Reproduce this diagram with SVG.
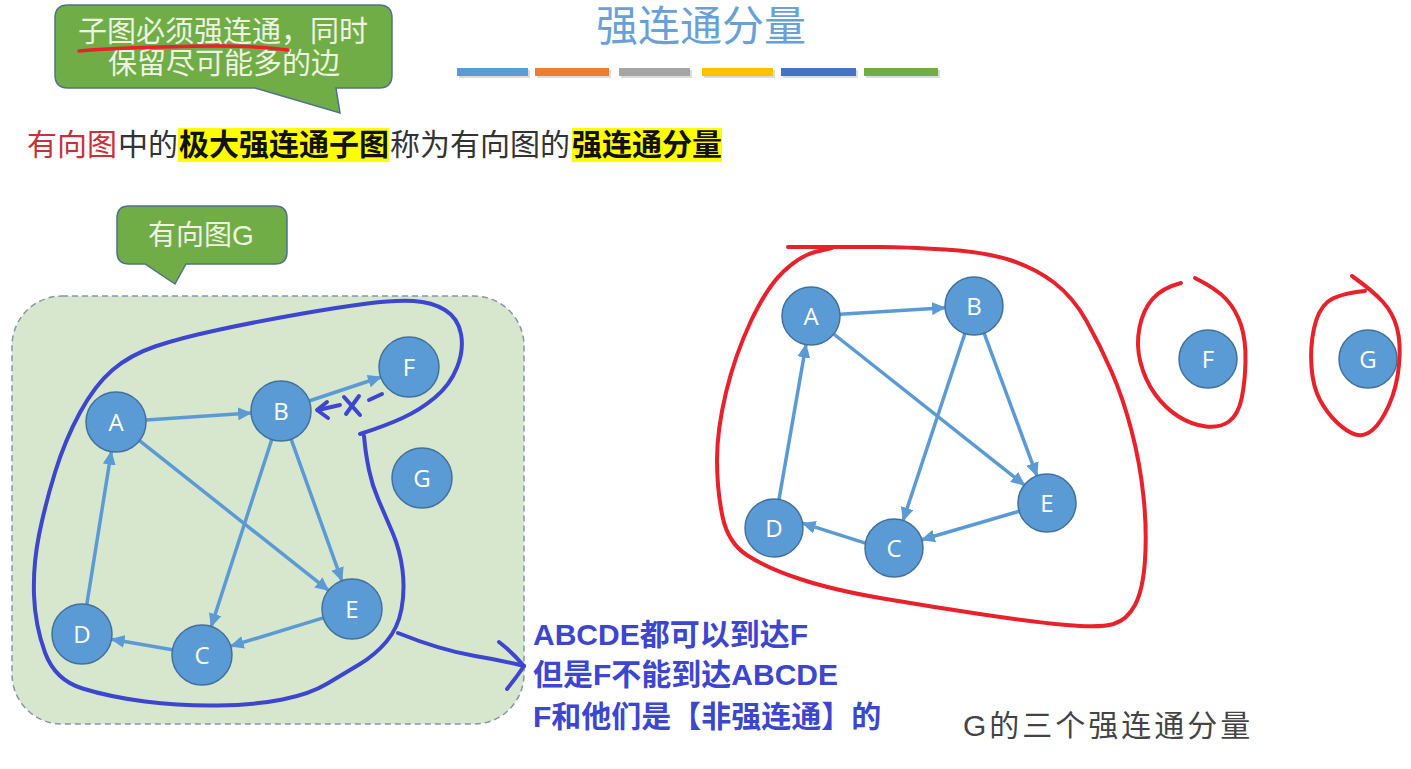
<svg xmlns="http://www.w3.org/2000/svg" width="1411" height="769" viewBox="0 0 1411 769">
<defs>
<style>
.cjk{font-family:"Liberation Sans","Noto Sans CJK SC",sans-serif;}
.node circle{fill:#5b9bd5;stroke:#41719c;stroke-width:1.5;}
.node text{fill:#ffffff;font-family:"Open Sans","Liberation Sans",sans-serif;font-size:24px;text-anchor:middle;}
.edge{stroke:#5b9bd5;stroke-width:3.5;fill:none;marker-end:url(#ah);}
.pen-blue{stroke:#3d46cf;stroke-width:4;fill:none;stroke-linecap:round;stroke-linejoin:round;}
.pen-red{stroke:#e8212b;stroke-width:4;fill:none;stroke-linecap:round;stroke-linejoin:round;}
.callout{fill:#70ad47;stroke:#4e7192;stroke-width:1.5;}
.callout-text{fill:#eef3e2;font-size:29px;text-anchor:middle;}
.bar-shadow{fill:#9a9a9a;opacity:0.35;}
</style>
<marker id="ah" markerUnits="userSpaceOnUse" markerWidth="15" markerHeight="13" refX="13" refY="6.5" orient="auto">
<path d="M0,0 L14,6.5 L0,13 Z" fill="#5b9bd5"/>
</marker>
</defs>
<rect width="1411" height="769" fill="#ffffff"/>

<!-- title -->
<g id="title">
<text class="cjk" x="701" y="41" font-size="42" fill="#6aa0d8" text-anchor="middle">强连通分量</text>
<rect class="bar-shadow" x="459" y="70" width="71" height="8"/>
<rect x="457" y="68" width="71" height="8" fill="#5b9bd5"/>
<rect class="bar-shadow" x="537" y="70" width="74" height="8"/>
<rect x="535" y="68" width="74" height="8" fill="#ed7d31"/>
<rect class="bar-shadow" x="621" y="70" width="71" height="8"/>
<rect x="619" y="68" width="71" height="8" fill="#a5a5a5"/>
<rect class="bar-shadow" x="704" y="70" width="71" height="8"/>
<rect x="702" y="68" width="71" height="8" fill="#ffc000"/>
<rect class="bar-shadow" x="783" y="70" width="75" height="8"/>
<rect x="781" y="68" width="75" height="8" fill="#4472c4"/>
<rect class="bar-shadow" x="866" y="70" width="74" height="8"/>
<rect x="864" y="68" width="74" height="8" fill="#70ad47"/>
</g>

<!-- callout 1 -->
<g id="callout-subgraph">
<path class="callout" d="M55,18 Q55,5 68,5 L379,5 Q392,5 392,18 L392,75 Q392,88 379,88 L336,88 L340,113 L255,88 L68,88 Q55,88 55,75 Z"/>
<text class="cjk callout-text" x="223" y="42">子图必须强连通，同时</text>
<text class="cjk callout-text" x="224" y="74">保留尽可能多的边</text>
<path d="M79,51 Q120,47 217,46 Q260,46 288,50" stroke="#e8212b" stroke-width="3.5" fill="none" stroke-linecap="round"/>
</g>

<!-- definition line -->
<g id="definition">
<rect x="178" y="128" width="211" height="34" fill="#ffff00"/>
<rect x="572" y="128" width="150" height="34" fill="#ffff00"/>
<text class="cjk" y="155" font-size="30">
<tspan x="27" fill="#c8313a">有向图</tspan><tspan x="118" fill="#333333">中的</tspan><tspan x="179" fill="#111111" font-weight="bold">极大强连通子图</tspan><tspan x="390" fill="#333333">称为有向图的</tspan><tspan x="572" fill="#111111" font-weight="bold">强连通分量</tspan>
</text>
</g>

<!-- callout 2 -->
<g id="callout-graphG">
<path class="callout" d="M117,218 Q117,206 129,206 L275,206 Q287,206 287,218 L287,252 Q287,264 275,264 L186,264 L175,284 L145,264 L129,264 Q117,264 117,252 Z"/>
<text class="cjk" x="201" y="245" font-size="28" fill="#eef3e2" text-anchor="middle">有向图G</text>
</g>

<!-- green frame -->
<g id="frame-G">
<rect x="12" y="296" width="512" height="428" rx="50" ry="50" fill="#d6e7cd" stroke="#8496a8" stroke-width="1.5" stroke-dasharray="6,4"/>
</g>

<!-- connectors -->
<g id="connectors">
<line class="edge" x1="146" y1="420" x2="251" y2="413"/>
<line class="edge" x1="309" y1="401" x2="381" y2="377"/>
<line class="edge" x1="139.5" y1="440.6" x2="328.5" y2="590.4"/>
<line class="edge" x1="271.8" y1="439.5" x2="211.2" y2="626.5"/>
<line class="edge" x1="291.1" y1="439.2" x2="341.9" y2="580.8"/>
<line class="edge" x1="323.3" y1="617.8" x2="230.7" y2="646.2"/>
<line class="edge" x1="172.4" y1="649.8" x2="111.5" y2="639.2"/>
<line class="edge" x1="86.8" y1="604.4" x2="111.3" y2="451.6"/>

<line class="edge" x1="840" y1="314.2" x2="945" y2="307.8"/>
<line class="edge" x1="833.7" y1="334" x2="1024.3" y2="485"/>
<line class="edge" x1="964.9" y1="333.5" x2="903.1" y2="520.5"/>
<line class="edge" x1="984.1" y1="333.2" x2="1036.9" y2="475.8"/>
<line class="edge" x1="1019.2" y1="511.2" x2="921.8" y2="539.8"/>
<line class="edge" x1="865.4" y1="543.2" x2="802.6" y2="523.2"/>
<line class="edge" x1="779" y1="499.4" x2="806" y2="344.6"/>
</g>

<!-- left graph nodes -->
<g id="L-A" class="node"><circle cx="116" cy="422" r="30"/><text x="116" y="431">A</text></g>
<g id="L-B" class="node"><circle cx="281" cy="411" r="30"/><text x="281" y="420">B</text></g>
<g id="L-F" class="node"><circle cx="409" cy="367" r="30"/><text x="409" y="376">F</text></g>
<g id="L-G" class="node"><circle cx="422" cy="478" r="30"/><text x="422" y="487">G</text></g>
<g id="L-D" class="node"><circle cx="82" cy="634" r="30"/><text x="82" y="643">D</text></g>
<g id="L-C" class="node"><circle cx="202" cy="655" r="30"/><text x="202" y="664">C</text></g>
<g id="L-E" class="node"><circle cx="352" cy="609" r="30"/><text x="352" y="618">E</text></g>

<!-- right graph nodes -->
<g id="R-A" class="node"><circle cx="811" cy="316" r="29"/><text x="811" y="325">A</text></g>
<g id="R-B" class="node"><circle cx="974" cy="306" r="29"/><text x="974" y="315">B</text></g>
<g id="R-E" class="node"><circle cx="1047" cy="503" r="29"/><text x="1047" y="512">E</text></g>
<g id="R-D" class="node"><circle cx="774" cy="528" r="29"/><text x="774" y="537">D</text></g>
<g id="R-C" class="node"><circle cx="894" cy="548" r="29"/><text x="894" y="557">C</text></g>
<g id="R-F" class="node"><circle cx="1208" cy="359" r="29"/><text x="1208" y="368">F</text></g>
<g id="R-G" class="node"><circle cx="1368" cy="359" r="29"/><text x="1368" y="368">G</text></g>

<!-- blue hand annotations -->
<g id="blue-annotation">
<path class="pen-blue" d="M360,434 Q385,426 402.5,418 Q420,410 435,397.5 Q450,385 457,367.5 Q464,350 461,334 Q458,318 445,310 Q432,302 413.5,301 Q395,300 367.5,303.5 Q340,307 300,314 Q260,321 220,329.5 Q180,338 155,346.5 Q130,355 112.5,370 Q95,385 80,412.5 Q65,440 55,472.5 Q45,505 39,535 Q33,565 34,595 Q35,625 45,652.5 Q55,680 82.5,688.5 Q110,697 145,701.5 Q180,706 217.5,705.5 Q255,705 282.5,699.5 Q310,694 327.5,683.5 Q345,673 360,664 Q375,655 386.5,641.5 Q398,628 401.5,609 Q405,590 402.5,570 Q400,550 392.5,532.5 Q385,515 378.5,500 Q372,485 369,470 Q366,455 365,445.5 L364,436"/>
<path class="pen-blue" d="M398,633 Q440,650 475,656 Q500,660 524,666"/>
<path class="pen-blue" d="M499,642 Q512,652 524,666 Q516,678 507,689"/>
<path class="pen-blue" d="M327,402 L317,410 L328,418"/>
<path class="pen-blue" d="M318,410 L340,405"/>
<path class="pen-blue" d="M344,397 L360,415 M359,396 L346,414"/>
<path class="pen-blue" d="M369,400 L382,394"/>
<text class="cjk" font-size="30" font-weight="bold" fill="#3d46cf">
<tspan x="533" y="645">ABCDE都可以到达F</tspan>
<tspan x="533" y="685">但是F不能到达ABCDE</tspan>
<tspan x="533" y="727">F和他们是【非强连通】的</tspan>
</text>
</g>

<!-- red hand annotations -->
<g id="red-annotation">
<path class="pen-red" d="M788,247 L880,247 Q905,247 945,249.5 Q985,252 1010,260 Q1035,268 1054,282.5 Q1073,297 1086.5,321 Q1100,345 1111.5,371.5 Q1123,398 1131.5,430.5 Q1140,463 1143.5,496.5 Q1147,530 1145,560 Q1143,590 1135,605 Q1127,620 1113.5,624 Q1100,628 1066.5,625 Q1033,622 983,614.5 Q933,607 883,598.5 Q833,590 800,579 Q767,568 747.5,555.5 Q728,543 722.5,516.5 Q717,490 717,460 Q717,430 726,392.5 Q735,355 751,321 Q767,287 783.5,271.5 Q800,256 815,252 L832,248"/>
<path class="pen-red" d="M1181,283 Q1162,288 1152.5,299 Q1143,310 1139.5,327.5 Q1136,345 1140.5,362.5 Q1145,380 1155,394 Q1165,408 1178.5,416.5 Q1192,425 1206,426.5 Q1220,428 1229,421.5 Q1238,415 1241.5,399 Q1245,383 1245.5,361.5 Q1246,340 1241,325 Q1236,310 1226.5,299.5 Q1217,289 1195,278"/>
<path class="pen-red" d="M1365,291 Q1337,294 1327.5,302 Q1318,310 1314,328.5 Q1310,347 1311.5,367 Q1313,387 1320,400 Q1327,413 1337,422.5 Q1347,432 1355.5,434.5 Q1364,437 1372.5,430 Q1381,423 1389,405 Q1397,387 1399,365 Q1401,343 1397,328 Q1393,313 1383,302 Q1373,291 1352,276"/>
</g>

<!-- caption -->
<g id="caption">
<text class="cjk" x="963" y="736" font-size="30" letter-spacing="3" fill="#444444">G的三个强连通分量</text>
</g>
</svg>
